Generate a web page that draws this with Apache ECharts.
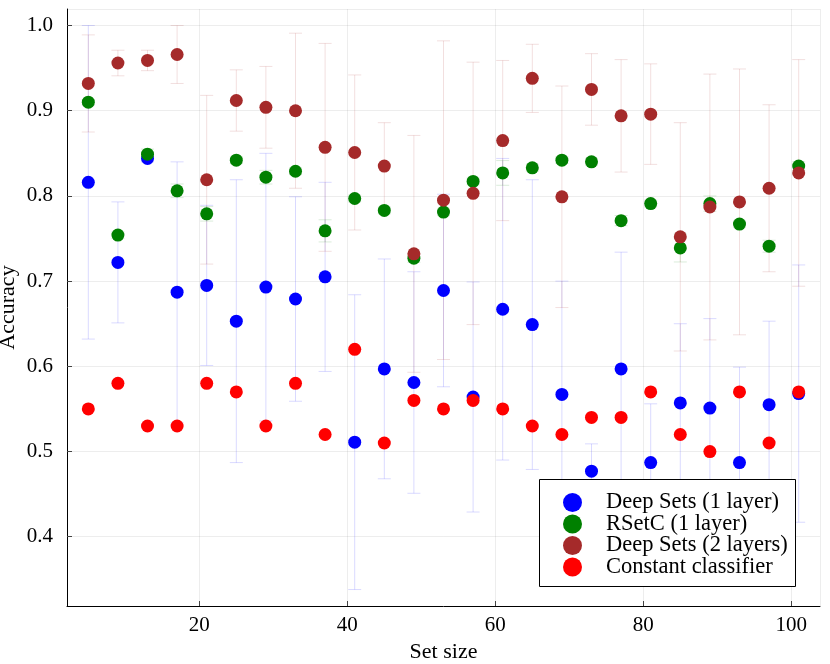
<!DOCTYPE html>
<html>
<head>
<meta charset="utf-8">
<script src="https://cdn.jsdelivr.net/npm/echarts@6/dist/echarts.min.js"></script>
<style>
    html, body { margin: 0; padding: 0; background: #fff; }
    #chart { width: 830px; height: 664px; }
</style>
</head>
<body>
<div id="chart"></div>
<script>
const setSizes = [5, 9, 13, 17, 21, 25, 29, 33, 37, 41, 45, 49, 53, 57, 61, 65, 69, 73, 77, 81, 85, 89, 93, 97, 101];

const deepSets1Mean = [0.816, 0.722, 0.844, 0.687, 0.695, 0.653, 0.693, 0.679, 0.705, 0.511, 0.597, 0.581, 0.689,
    0.564, 0.667, 0.649, 0.567, 0.477, 0.597, 0.487, 0.557, 0.551, 0.487, 0.555, 0.568];
const deepSets1Err = [0.184, 0.071, 0.004, 0.153, 0.094, 0.166, 0.157, 0.120, 0.111, 0.173, 0.129, 0.130, 0.113,
    0.135, 0.177, 0.170, 0.133, 0.032, 0.137, 0.069, 0.093, 0.105, 0.112, 0.098, 0.151];

const rsetcMean = [0.910, 0.754, 0.849, 0.806, 0.779, 0.842, 0.822, 0.829, 0.759, 0.797, 0.783, 0.727, 0.781,
    0.817, 0.827, 0.833, 0.842, 0.840, 0.771, 0.791, 0.739, 0.791, 0.767, 0.741, 0.835];
const rsetcErr = [0.003, 0.004, 0.006, 0.008, 0.0085, 0.004, 0.008, 0.004, 0.013, 0.004, 0.004, 0.005, 0.004,
    0.004, 0.0145, 0.004, 0.004, 0.004, 0.006, 0.004, 0.0165, 0.009, 0.004, 0.007, 0.005];

const deepSets2Mean = [0.932, 0.956, 0.959, 0.966, 0.819, 0.912, 0.904, 0.900, 0.857, 0.851, 0.835, 0.732, 0.795,
    0.803, 0.865, 0.938, 0.799, 0.925, 0.894, 0.896, 0.752, 0.787, 0.793, 0.809, 0.827];
const deepSets2Err = [0.057, 0.015, 0.012, 0.034, 0.099, 0.036, 0.048, 0.091, 0.122, 0.091, 0.051, 0.139, 0.187,
    0.154, 0.094, 0.040, 0.130, 0.042, 0.066, 0.059, 0.134, 0.156, 0.156, 0.098, 0.133];

const constantMean = [0.55, 0.58, 0.53, 0.53, 0.58, 0.57, 0.53, 0.58, 0.52, 0.62, 0.51, 0.56, 0.55,
    0.56, 0.55, 0.53, 0.52, 0.54, 0.54, 0.57, 0.52, 0.50, 0.57, 0.51, 0.57];

const seriesDefs = [
    {name: "Deep Sets (1 layer)", color: "#0000ff", bar: "rgba(0, 0, 255, 0.15)", mean: deepSets1Mean, err: deepSets1Err},
    {name: "RSetC (1 layer)", color: "#008000", bar: "rgba(0, 128, 0, 0.15)", mean: rsetcMean, err: rsetcErr},
    {name: "Deep Sets (2 layers)", color: "#a52a2a", bar: "rgba(165, 42, 42, 0.15)", mean: deepSets2Mean, err: deepSets2Err},
    {name: "Constant classifier", color: "#ff0000", bar: null, mean: constantMean, err: null}
];

const font = "Liberation Serif";
const myChart = echarts.init(document.getElementById("chart"), null, {renderer: "canvas"});

const errorBars = function(barColor) {
    return function(params, api) {
        const x = api.value(0);
        const top = api.coord([x, api.value(2)]);
        const bot = api.coord([x, api.value(1)]);
        const w = 6.5;
        const style = {stroke: barColor, lineWidth: 1, fill: null};
        return {
            type: "group",
            children: [
                {type: "line", shape: {x1: top[0], y1: top[1], x2: bot[0], y2: bot[1]}, style: style},
                {type: "line", shape: {x1: top[0] - w, y1: top[1], x2: top[0] + w, y2: top[1]}, style: style},
                {type: "line", shape: {x1: bot[0] - w, y1: bot[1], x2: bot[0] + w, y2: bot[1]}, style: style}
            ]
        };
    };
};

const series = [];
seriesDefs.forEach(def => {
    if (def.err) {
        series.push({
            type: "custom",
            name: def.name + " err",
            silent: true,
            clip: true,
            renderItem: errorBars(def.bar),
            encode: {x: 0, y: [1, 2]},
            data: setSizes.map((s, i) => [s, def.mean[i] - def.err[i], def.mean[i] + def.err[i]])
        });
    }
    series.push({
        type: "scatter",
        name: def.name,
        symbol: "circle",
        symbolSize: 13,
        itemStyle: {color: def.color, opacity: 1},
        data: setSizes.map((s, i) => [s, def.mean[i]])
    });
});

const option = {
    animation: false,
    textStyle: {fontFamily: font},
    grid: {left: 67, right: 10, top: 9, bottom: 58, containLabel: false, outerBoundsMode: "none"},
    xAxis: {
        type: "value",
        min: 2.12,
        max: 103.88,
        name: "Set size",
        nameLocation: "middle",
        nameGap: 34,
        nameTextStyle: {fontFamily: font, fontSize: 22, color: "#000"},
        axisLine: {show: true, lineStyle: {color: "#000", width: 1}},
        axisTick: {show: true, inside: true, length: 5, lineStyle: {color: "#444"}},
        axisLabel: {fontFamily: font, fontSize: 21, color: "#000", margin: 9, showMinLabel: false, showMaxLabel: false},
        splitLine: {show: true, lineStyle: {color: "rgba(0, 0, 0, 0.07)", width: 1}}
    },
    yAxis: {
        type: "value",
        min: 0.3187,
        max: 1.0194,
        name: "Accuracy",
        nameLocation: "middle",
        nameGap: 48,
        nameMoveOverlap: false,
        nameTextStyle: {fontFamily: font, fontSize: 22, color: "#000"},
        axisLine: {show: true, lineStyle: {color: "#000", width: 1}},
        axisTick: {show: true, inside: true, length: 5, lineStyle: {color: "#444"}},
        axisLabel: {
            fontFamily: font, fontSize: 21, color: "#000", margin: 14,
            showMinLabel: false, showMaxLabel: false,
            formatter: v => v.toFixed(1)
        },
        splitLine: {show: true, lineStyle: {color: "rgba(0, 0, 0, 0.07)", width: 1}}
    },
    graphic: [{
        type: "rect",
        z: 3,
        shape: {x: 539.5, y: 479.5, width: 256, height: 107},
        style: {fill: "#fff", stroke: "#000", lineWidth: 1}
    }],
    legend: {
        orient: "vertical",
        left: 539,
        top: 479,
        z: 5,
        padding: [12, 8, 10, 24],
        itemGap: -1.5,
        itemWidth: 19,
        itemHeight: 19,
        icon: "circle",
        textStyle: {fontFamily: font, fontSize: 22.5, color: "#000", padding: [0, 0, 0, 19]},
        data: seriesDefs.map(d => d.name)
    },
    series: series
};

option && myChart.setOption(option);
</script>
</body>
</html>
